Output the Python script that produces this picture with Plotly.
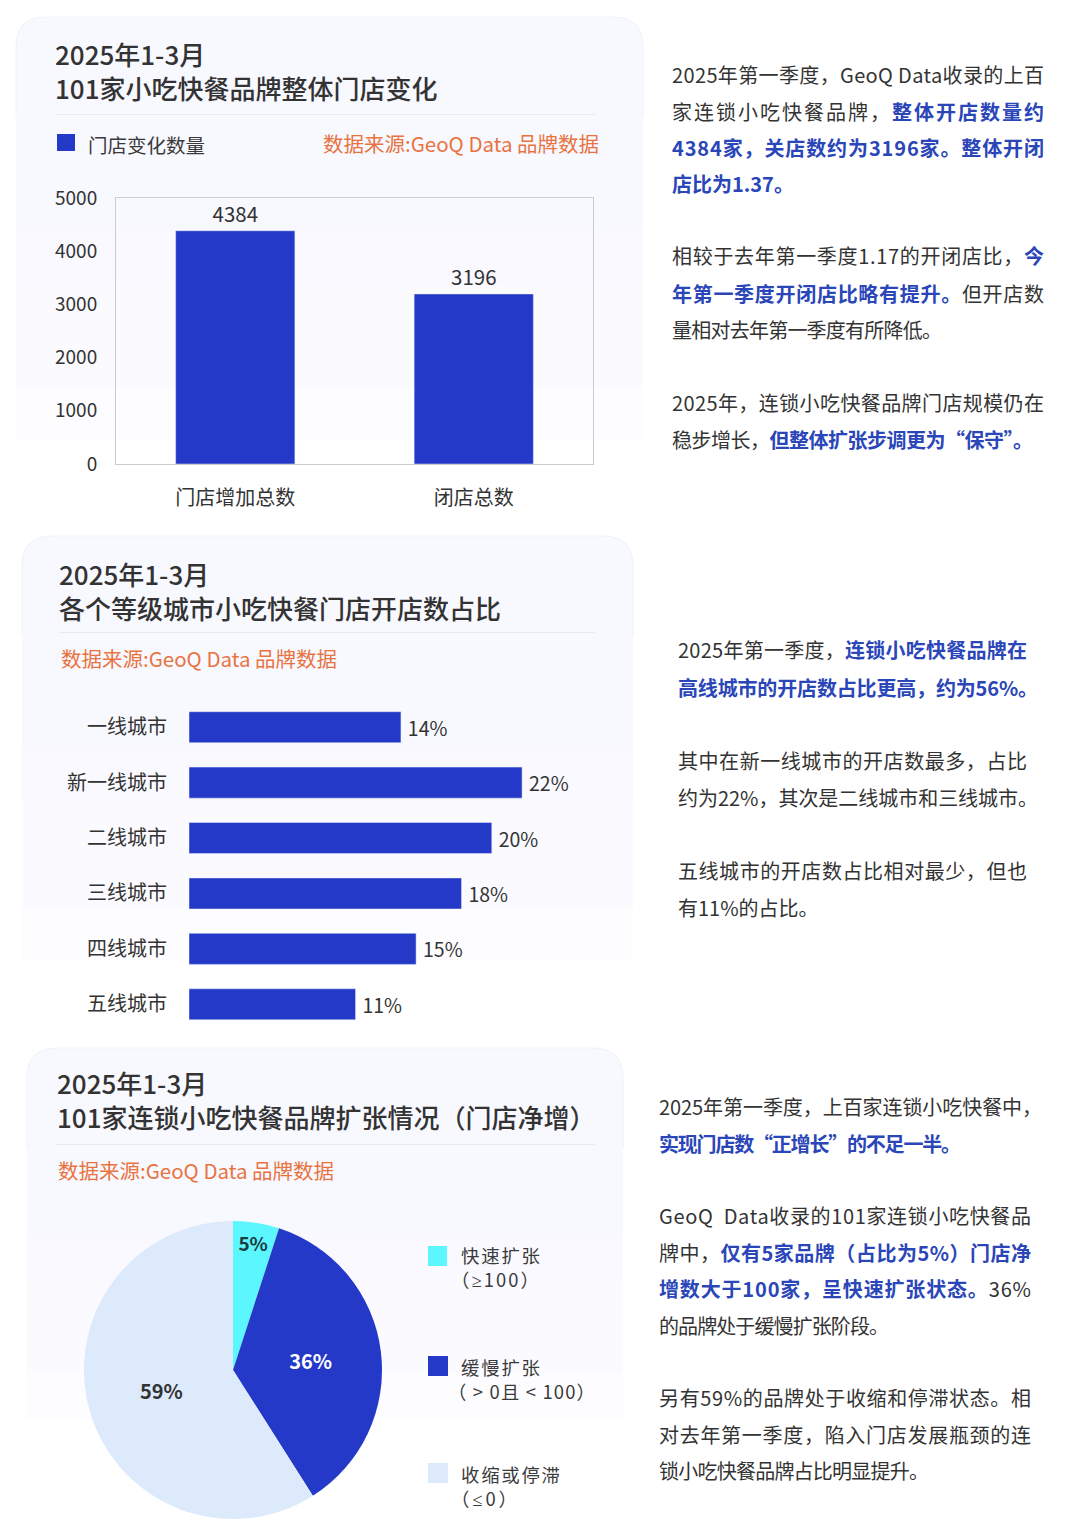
import json
import plotly.graph_objects as go

W, H = 1080, 1536
FONT = "Noto Sans CJK SC"
BLUE = "#2439C8"
CYAN = "#5CF6FF"
PALE = "#DDEAFC"
TXT = "#333333"
HL = "#2A46B8"
ORANGE = "#E8733F"

# ---- data ----
store_cats = ["门店增加总数", "闭店总数"]
store_vals = [4384, 3196]
store_ticks = [0, 1000, 2000, 3000, 4000, 5000]

city_cats = ["一线城市", "新一线城市", "二线城市", "三线城市", "四线城市", "五线城市"]
city_vals = [14, 22, 20, 18, 15, 11]

pie_cats = ["快速扩张", "缓慢扩张", "收缩或停滞"]
pie_vals = [5, 36, 59]
pie_cols = [CYAN, BLUE, PALE]
pie_text_cols = ["#1F3B3F", "#FFFFFF", "#333333"]

titles = [
    ("2025年1-3月<br>101家小吃快餐品牌整体门店变化", 54, 70.5),
    ("2025年1-3月<br>各个等级城市小吃快餐门店开店数占比", 58, 590.5),
    ("2025年1-3月<br>101家连锁小吃快餐品牌扩张情况（门店净增）", 56, 1099.5),
]
sources = [(322, 143), (60, 658), (57, 1170)]
SOURCE = "数据来源:GeoQ Data 品牌数据"

GE = '<span style="font-family:Noto Sans">≥</span>'
LE = '<span style="font-family:Noto Sans">≤</span>'
legend_items = [
    (87, 144, "门店变化数量", None),
    (460, 1255, "快速扩张", 79), (450, 1279, "（" + GE + "100）", 88),
    (460, 1367, "缓慢扩张", 79), (447, 1391, "（ > 0且 < 100）", 147),
    (460, 1474, "收缩或停滞", 99), (450, 1498, "（" + LE + "0）", 66),
]

def hl(s):
    return f'<b><span style="color:{HL}">{s}</span></b>'

# text, x, y, justified width
body = [
    ("2025年第一季度，GeoQ Data收录的上百", 671, 74, 372),
    ("家连锁小吃快餐品牌，" + hl("整体开店数量约"), 671, 111, 372),
    (hl("4384家，关店数约为3196家。整体开闭"), 671, 147, 372),
    (hl("店比为1.37。"), 671, 183, None),
    ("相较于去年第一季度1.17的开闭店比，" + hl("今"), 671, 256, 372),
    (hl("年第一季度开闭店比略有提升。") + "但开店数", 671, 293, 372),
    ("量相对去年第一季度有所降低。", 671, 329, 270),
    ("2025年，连锁小吃快餐品牌门店规模仍在", 671, 402, 372),
    ("稳步增长，" + hl("但整体扩张步调更为“保守”。"), 671, 439, 361),
    ("2025年第一季度，" + hl("连锁小吃快餐品牌在"), 677, 650, 349),
    (hl("高线城市的开店数占比更高，约为56%。"), 677, 687, 360),
    ("其中在新一线城市的开店数最多，占比", 677, 760, 349),
    ("约为22%，其次是二线城市和三线城市。", 677, 797, 360),
    ("五线城市的开店数占比相对最少，但也", 677, 870, 349),
    ("有11%的占比。", 677, 907, None),
    ("2025年第一季度，上百家连锁小吃快餐中，", 658, 1106, 383),
    (hl("实现门店数“正增长”的不足一半。"), 658, 1143, 302),
    ("GeoQ  Data收录的101家连锁小吃快餐品", 658, 1215, 372),
    ("牌中，" + hl("仅有5家品牌（占比为5%）门店净"), 658, 1252, 372),
    (hl("增数大于100家，呈快速扩张状态。") + "36%", 658, 1288, 372),
    ("的品牌处于缓慢扩张阶段。", 658, 1325, 230),
    ("另有59%的品牌处于收缩和停滞状态。相", 658, 1397, 372),
    ("对去年第一季度，陷入门店发展瓶颈的连", 658, 1434, 372),
    ("锁小吃快餐品牌占比明显提升。", 658, 1470, 270),
]

# ---- pixel helpers ----
def px(x): return x / W
def py(y): return 1 - y / H

def rounded(x0, y0, x1, y1, r=30):
    return (f"M{px(x0)},{py(y1)} L{px(x0)},{py(y0+r)} "
            f"Q{px(x0)},{py(y0)} {px(x0+r)},{py(y0)} "
            f"L{px(x1-r)},{py(y0)} Q{px(x1)},{py(y0)} {px(x1)},{py(y0+r)} "
            f"L{px(x1)},{py(y1)} Z")

shapes, annos, fits = [], [], {}

def card(x0, y0, x1, y1):
    n = 8
    for i in range(n):
        b = y0 + (y1 - y0) * (n - i) / n
        shapes.append(dict(type="path", xref="paper", yref="paper", path=rounded(x0, y0, x1, b),
                           fillcolor="rgba(246,249,254,0.25)", line_width=0, layer="below"))
    arc = (f"M{px(x0)},{py(y0+100)} L{px(x0)},{py(y0+30)} Q{px(x0)},{py(y0)} {px(x0+30)},{py(y0)} "
           f"L{px(x1-30)},{py(y0)} Q{px(x1)},{py(y0)} {px(x1)},{py(y0+30)} L{px(x1)},{py(y0+100)}")
    shapes.append(dict(type="path", xref="paper", yref="paper", path=arc,
                       line=dict(color="#EEF3FA", width=1), layer="below"))

card(16, 17, 643, 440)
card(22, 536, 633, 960)
card(27, 1048, 623, 1420)

def hline(x0, x1, y):
    shapes.append(dict(type="line", xref="paper", yref="paper", x0=px(x0), x1=px(x1), y0=py(y), y1=py(y),
                       line=dict(color="#E6EBF3", width=1), layer="below"))

hline(55, 595, 114.5)
hline(59, 595, 632.5)
hline(55, 595, 1144.5)

def square(x0, y0, x1, y1, col):
    shapes.append(dict(type="rect", xref="paper", yref="paper", x0=px(x0), x1=px(x1), y0=py(y1), y1=py(y0),
                       fillcolor=col, line_width=0, layer="below"))

square(57, 134, 75, 151, BLUE)
square(428, 1246, 447, 1266, CYAN)
square(428, 1356, 448, 1376, BLUE)
square(428, 1463, 448, 1483, PALE)

def text(s, x, y, size, col, weight=None, fit=None):
    f = dict(family=FONT, size=size, color=col)
    if weight:
        f["weight"] = weight
    if fit:
        fits[len(annos)] = fit
    annos.append(dict(text=s, x=px(x), y=py(y), xref="paper", yref="paper", xanchor="left", yanchor="middle",
                      align="left", showarrow=False, font=f, borderpad=0))

for s, x, y in titles:
    text(s, x, y, 26, "#333333", 500)
for x, y in sources:
    text(SOURCE, x, y, 20.5, ORANGE)
for x, y, s, w in legend_items:
    text(s, x, y, 18.4 if w else 19.5, "#3A3A3A", fit=w)
for s, x, y, w in body:
    text(s, x, y, 20, TXT, fit=w)

# ---- traces ----
fig = go.Figure()
fig.add_trace(go.Bar(x=store_cats, y=store_vals, marker_color=BLUE, text=store_vals, textposition="outside",
                     textfont=dict(size=20.5, color=TXT, family=FONT), cliponaxis=False, xaxis="x", yaxis="y",
                     showlegend=False))
fig.add_trace(go.Bar(y=city_cats, x=city_vals, orientation="h", marker_color=BLUE, width=0.56,
                     text=[f"\u2009{v}%" for v in city_vals], textposition="outside",
                     textfont=dict(size=19.5, color=TXT, family=FONT), cliponaxis=False,
                     xaxis="x2", yaxis="y2", showlegend=False))
fig.add_trace(go.Pie(labels=pie_cats, values=pie_vals, sort=False, direction="clockwise", rotation=0,
                     marker=dict(colors=pie_cols, line=dict(width=0)), textinfo="percent",
                     texttemplate="<b>%{percent:.0%}</b>", textposition="inside", insidetextorientation="horizontal",
                     textfont=dict(size=20, color=pie_text_cols, family=FONT), showlegend=False,
                     domain=dict(x=[px(84), px(382)], y=[py(1519), py(1221)])))

tick_font = dict(family=FONT, size=19, color=TXT)
cat_font = dict(family=FONT, size=20, color=TXT)
fig.update_layout(
    width=W, height=H, autosize=False, margin=dict(l=0, r=0, t=0, b=0, autoexpand=False),
    paper_bgcolor="#FFFFFF", plot_bgcolor="rgba(0,0,0,0)", font=dict(family=FONT, color=TXT),
    shapes=shapes, annotations=annos, bargap=0.5,
    xaxis=dict(domain=[px(116), px(593)], anchor="y", showline=True, mirror=True, linecolor="#C9CDD3", linewidth=1,
               tickfont=cat_font, ticks="", ticklabelstandoff=16, fixedrange=True),
    yaxis=dict(domain=[py(464), py(198)], anchor="x", range=[0, 5000], tickvals=store_ticks, showgrid=False,
               showline=True, mirror=True, linecolor="#C9CDD3", linewidth=1, tickfont=tick_font, ticks="",
               ticklabelstandoff=14, zeroline=False, fixedrange=True),
    xaxis2=dict(domain=[px(189), px(567.5)], anchor="y2", range=[0, 25], visible=False, fixedrange=True),
    yaxis2=dict(domain=[py(1032), py(699.5)], anchor="x2", autorange="reversed", showgrid=False, showline=False,
                tickfont=cat_font, ticks="", ticklabelstandoff=21, fixedrange=True),
)

post = """
document.body.style.margin = '0';
var fits = %s;
Object.keys(fits).forEach(function (i) {
  var t = document.querySelector('g.annotation[data-index="' + i + '"] text.annotation-text');
  if (!t) return;
  var n = t.textContent.length;
  var cur = t.getComputedTextLength();
  t.style.letterSpacing = ((fits[i] - cur) / (n - 1)) + 'px';
});
""" % json.dumps(fits)

fig.write_html("out.html", post_script=post, config=dict(displayModeBar=False))
